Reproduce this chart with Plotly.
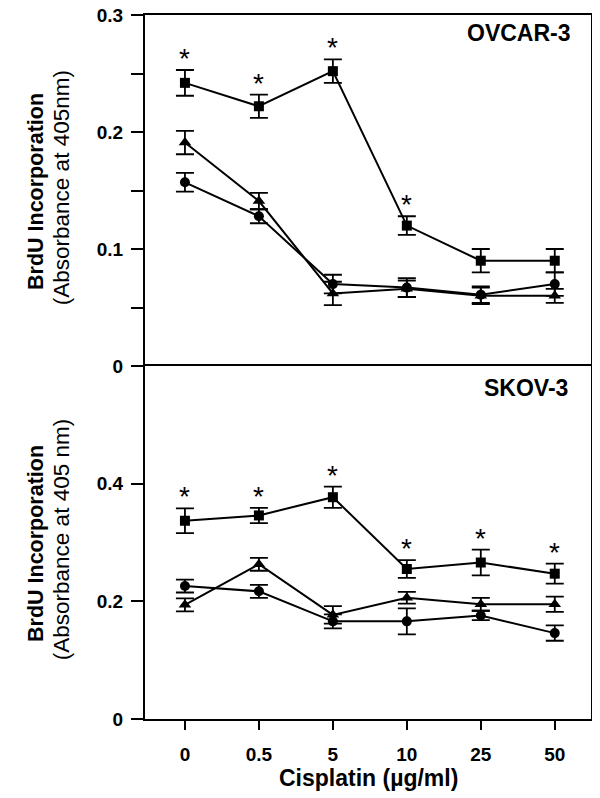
import plotly.graph_objects as go

doses = ["0", "0.5", "5", "10", "25", "50"]

# OVCAR-3 (top panel)
ov_square = [0.242, 0.222, 0.252, 0.120, 0.090, 0.090]
ov_square_err = [0.011, 0.010, 0.010, 0.008, 0.010, 0.010]
ov_triangle = [0.191, 0.141, 0.062, 0.066, 0.060, 0.060]
ov_triangle_err = [0.010, 0.007, 0.010, 0.007, 0.007, 0.006]
ov_circle = [0.157, 0.128, 0.070, 0.067, 0.061, 0.070]
ov_circle_err = [0.008, 0.006, 0.008, 0.008, 0.007, 0.010]
ov_star = [True, True, True, True, False, False]

# SKOV-3 (bottom panel)
sk_square = [0.337, 0.346, 0.377, 0.255, 0.266, 0.247]
sk_square_err = [0.021, 0.013, 0.018, 0.015, 0.022, 0.017]
sk_triangle = [0.194, 0.263, 0.177, 0.206, 0.195, 0.195]
sk_triangle_err = [0.011, 0.011, 0.015, 0.010, 0.011, 0.013]
sk_circle = [0.226, 0.217, 0.166, 0.166, 0.176, 0.146]
sk_circle_err = [0.011, 0.011, 0.012, 0.022, 0.008, 0.013]
sk_star = [True, True, True, True, True, True]

BLACK = "#000000"
FONT = "Liberation Sans, Arial, sans-serif"

fig = go.Figure()

series = [
    (ov_square, ov_square_err, "square", 10, "x", "y"),
    (ov_triangle, ov_triangle_err, "triangle-up", 11, "x", "y"),
    (ov_circle, ov_circle_err, "circle", 10, "x", "y"),
    (sk_square, sk_square_err, "square", 10, "x2", "y2"),
    (sk_triangle, sk_triangle_err, "triangle-up", 11, "x2", "y2"),
    (sk_circle, sk_circle_err, "circle", 10, "x2", "y2"),
]
for vals, errs, sym, size, xa, ya in series:
    fig.add_trace(
        go.Scatter(
            x=doses,
            y=vals,
            xaxis=xa,
            yaxis=ya,
            mode="lines+markers",
            line=dict(color=BLACK, width=2),
            marker=dict(symbol=sym, size=size, color=BLACK),
            error_y=dict(type="data", array=errs, color=BLACK, thickness=1.8, width=9),
            showlegend=False,
        )
    )

annotations = []
# significance asterisks above the square series (x given as category index)
for vals, errs, stars, xa, ya in [
    (ov_square, ov_square_err, ov_star, "x", "y"),
    (sk_square, sk_square_err, sk_star, "x2", "y2"),
]:
    for i, (v, e, s) in enumerate(zip(vals, errs, stars)):
        if s:
            annotations.append(
                dict(x=i, y=v + e, xref=xa, yref=ya, text="*", showarrow=False,
                     yanchor="bottom", yshift=-6,
                     font=dict(family=FONT, size=28, color=BLACK))
            )

# y titles: bold line + regular line, one annotation each
for bold_y, reg_y, reg_text in [
    (0.75, 0.754, "(Absorbance at 405nm)"),
    (0.25, 0.254, "(Absorbance at 405 nm)"),
]:
    annotations.append(
        dict(x=-0.2444, y=bold_y, xref="paper", yref="paper",
             text="<b>BrdU Incorporation</b>", showarrow=False, textangle=-90,
             xanchor="center", yanchor="middle",
             font=dict(family=FONT, size=21.5, color=BLACK)))
    annotations.append(
        dict(x=-0.1883, y=reg_y, xref="paper", yref="paper",
             text=reg_text, showarrow=False, textangle=-90,
             xanchor="center", yanchor="middle",
             font=dict(family=FONT, size=22.5, color=BLACK)))

annotations += [
    dict(x=0.96, y=0.974, xref="paper", yref="paper", text="<b>OVCAR-3</b>",
         showarrow=False, xanchor="right", yanchor="middle",
         font=dict(family=FONT, size=23, color=BLACK)),
    dict(x=0.953, y=0.470, xref="paper", yref="paper", text="<b>SKOV-3</b>",
         showarrow=False, xanchor="right", yanchor="middle",
         font=dict(family=FONT, size=23, color=BLACK)),
    dict(x=0.5, y=-0.062, xref="paper", yref="paper",
         text="<b>Cisplatin (µg/ml)</b>",
         showarrow=False, xanchor="center", yanchor="top",
         font=dict(family=FONT, size=23, color=BLACK)),
]

axis_common = dict(showline=True, linecolor=BLACK, linewidth=2,
                   showgrid=False, zeroline=False, automargin=False)
tick_font = dict(family=FONT, size=19, color=BLACK, weight="bold")

# the page body adds an 8px offset, margins compensate for it
fig.update_layout(
    width=600,
    height=798,
    margin=dict(l=137, r=17, t=7, b=87, autoexpand=False),
    paper_bgcolor="white",
    plot_bgcolor="white",
    font=dict(family=FONT, color=BLACK),
    # top panel: only the top border line, the shared border comes from the lower panel
    xaxis=dict(axis_common, type="category", range=[-0.54, 5.49], domain=[0, 1],
               anchor="y", side="top", mirror=False,
               showticklabels=False, ticks=""),
    yaxis=dict(axis_common, mirror=True, range=[0, 0.3], domain=[0.5014, 1], anchor="x",
               tickvals=[0, 0.05, 0.1, 0.15, 0.2, 0.25, 0.3],
               ticktext=["0", "", "0.1", "", "0.2", "", "0.3"],
               ticks="outside", ticklen=12, tickwidth=2, tickcolor=BLACK,
               ticklabelstandoff=4, ticklabeloverflow="allow", tickfont=tick_font),
    xaxis2=dict(axis_common, mirror=True, type="category", range=[-0.54, 5.49],
                domain=[0, 1], anchor="y2", ticks="outside", ticklen=9, tickwidth=2,
                tickcolor=BLACK, ticklabelstandoff=8, tickfont=tick_font),
    yaxis2=dict(axis_common, mirror=True, range=[0, 0.6], domain=[0, 0.5014], anchor="x2",
                tickvals=[0, 0.2, 0.4],
                ticktext=["0", "0.2", "0.4"],
                ticks="outside", ticklen=12, tickwidth=2, tickcolor=BLACK,
                ticklabelstandoff=4, ticklabeloverflow="allow", tickfont=tick_font),
    annotations=annotations,
)

fig.write_html("out.html")
